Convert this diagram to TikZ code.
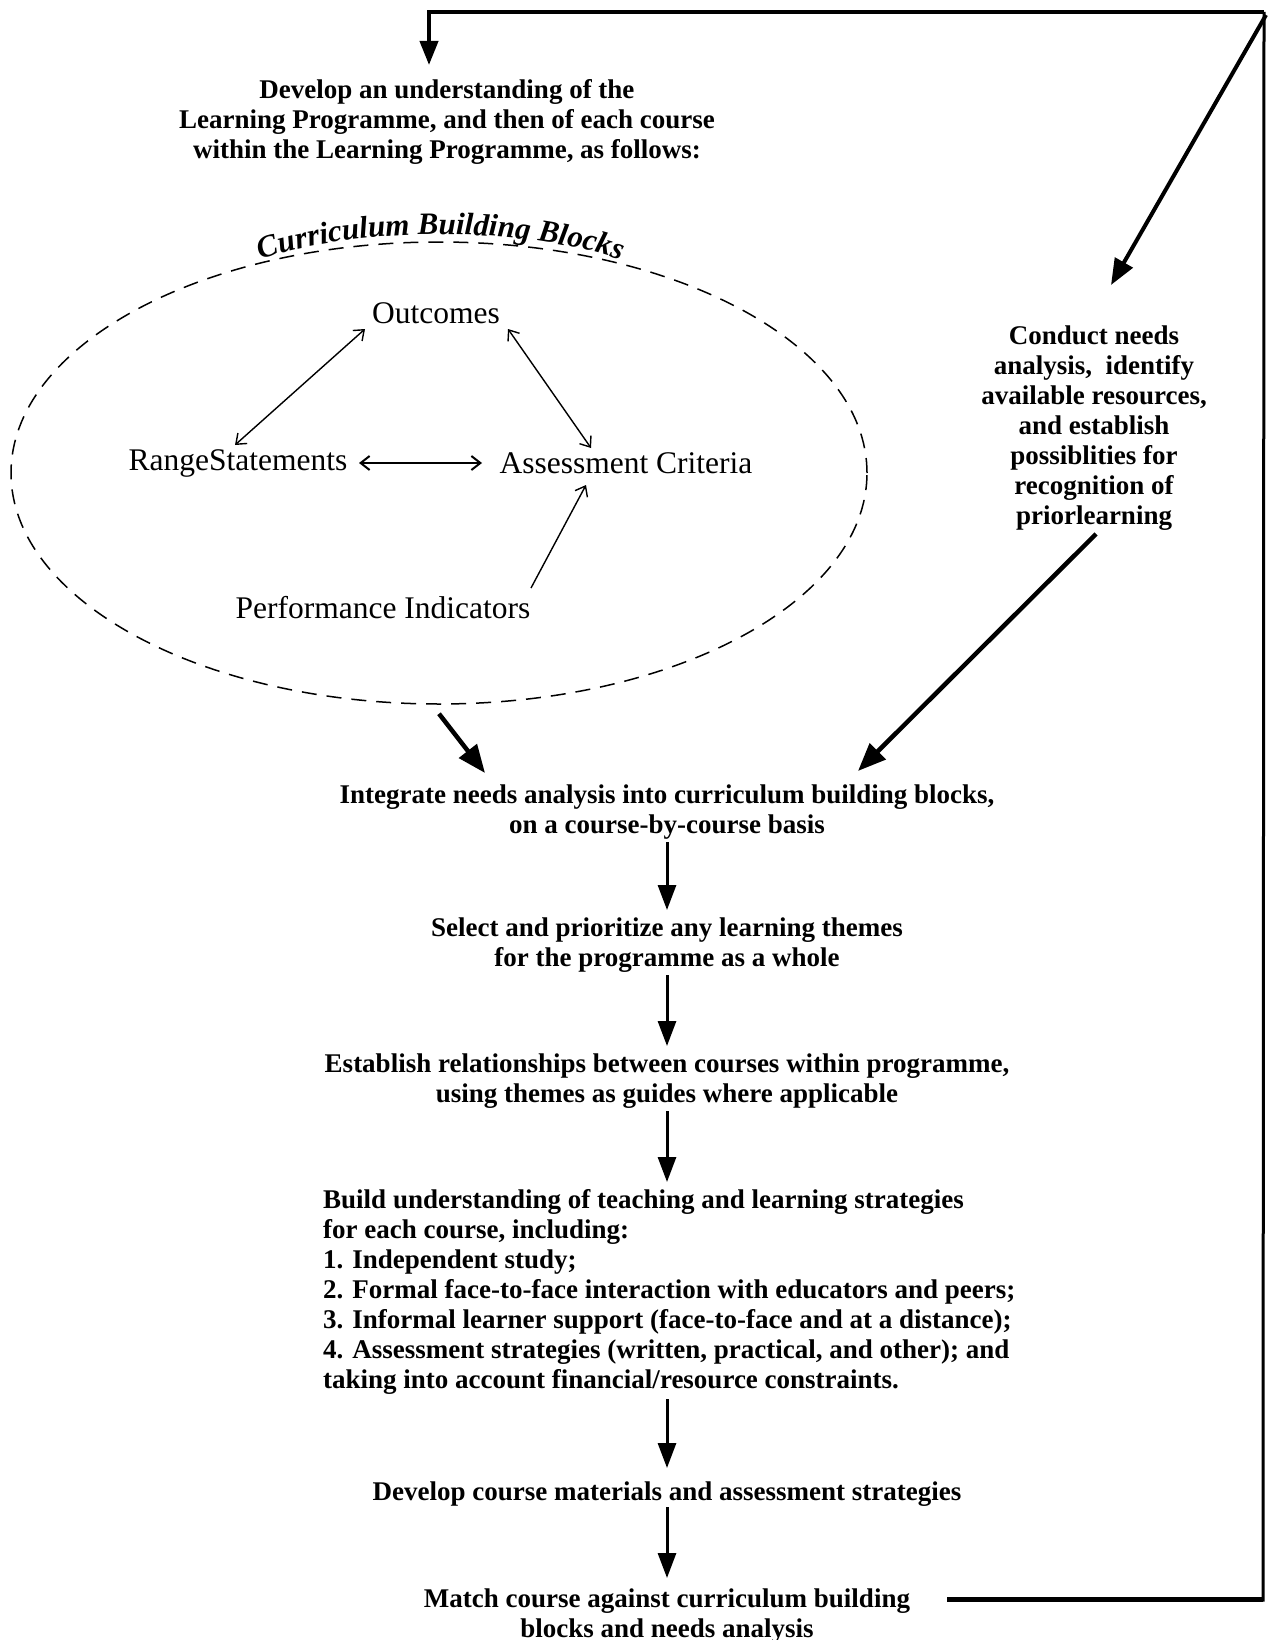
\documentclass[tikz,border=0pt]{standalone}
\usepackage{fontspec}
\setmainfont{Liberation Serif}
\usetikzlibrary{arrows.meta,decorations.text,shapes.geometric,calc}

\tikzset{
 flowtext/.style={font=\bfseries\fontsize{27}{30}\selectfont, align=center, inner sep=2pt},
 ovaltext/.style={font=\fontsize{31.5}{32}\selectfont, inner sep=2pt},
 thinarrow/.style={line width=1.4pt, <->, >={Straight Barb[length=9pt,width=14pt]}},
 thinone/.style={line width=1.4pt, ->, >={Straight Barb[length=9pt,width=14pt]}},
 flowarrow/.style={line width=3pt, -{Triangle[length=25pt,width=18pt]}},
 heavyarrow/.style={line width=4.5pt, -{Triangle[length=28pt,width=22pt]}},
 loopline/.style={line width=4pt},
 oval/.style={draw, ellipse, dash pattern=on 15pt off 10pt, line width=1.5pt, inner sep=0pt},
}

\begin{document}
\begin{tikzpicture}[x=1pt,y=-1pt]
\useasboundingbox[fill=white] (0,0) rectangle (1268,1640);

% texts
\node[flowtext] (understand) at (447,122) {Develop an understanding of the\\Learning Programme, and then of each course\\within the Learning Programme, as follows:};
\node[flowtext] (conduct) at (1094,428) {Conduct needs\\analysis,\ \ identify\\available resources,\\and establish\\possiblities for\\recognition of\\priorlearning};

% curriculum building blocks
\node[oval, minimum width=856pt, minimum height=462pt] (cbb) at (439,473) {};
\path[decorate, decoration={text along path, text align=center,
  text={|\bfseries\itshape\fontsize{31}{32}\selectfont|Curriculum Building Blocks}}]
  (246,266) .. controls (340,224) and (540,224) .. (636,266);

\node[ovaltext] (outcomes) at (436,313) {Outcomes};
\node[ovaltext] (range) at (238,463) {RangeStatements};
\node[ovaltext] (assess) at (626,463) {Assessment Criteria};
\node[ovaltext] (perf) at (383,608) {Performance Indicators};

\draw[thinarrow] ($(outcomes.center)+(-71,16)$) -- ($(range.center)+(-3,-18)$);
\draw[thinarrow] ($(outcomes.center)+(72,16)$) -- ($(assess.center)+(-35,-15)$);
\draw[thinarrow, line width=2pt] ($(range.center)+(121,0)$) -- ($(assess.center)+(-144,0)$);
\draw[thinone] ($(perf.center)+(148,-20)$) -- ($(assess.center)+(-40,22)$);

% flow
\node[flowtext] (integrate) at (667,812) {Integrate needs analysis into curriculum building blocks,\\on a course-by-course basis};
\node[flowtext] (select) at (667,945) {Select and prioritize any learning themes\\for the programme as a whole};
\node[flowtext] (establish) at (667,1081) {Establish relationships between courses within programme,\\using themes as guides where applicable};
\node[flowtext, align=left, anchor=west] (build) at (321,1292) {Build understanding of teaching and learning strategies\\for each course, including:\\1. Independent study;\\2. Formal face-to-face interaction with educators and peers;\\3. Informal learner support (face-to-face and at a distance);\\4. Assessment strategies (written, practical, and other); and\\taking into account financial/resource constraints.};
\node[flowtext] (devcourse) at (667,1494) {Develop course materials and assessment strategies};
\node[flowtext] (match) at (667,1616) {Match course against curriculum building\\blocks and needs analysis};

\draw[heavyarrow] ($(cbb.south)+(0,9)$) -- ($(integrate.center)+(-182,-39)$);
\draw[heavyarrow] ($(conduct.center)+(2,106)$) -- ($(integrate.center)+(191,-41)$);

\draw[flowarrow] ($(integrate.center)+(0,30)$) -- ($(select.center)+(0,-35)$);
\draw[flowarrow] ($(select.center)+(0,30)$) -- ($(establish.center)+(0,-35)$);
\draw[flowarrow] ($(establish.center)+(0,30)$) -- ($(establish.center |- build.center)+(0,-110)$);
\draw[flowarrow] ($(devcourse.center |- build.center)+(0,107)$) -- ($(devcourse.center)+(0,-26)$);
\draw[flowarrow] ($(devcourse.center)+(0,13)$) -- ($(match.center)+(0,-38)$);

% feedback loop
\coordinate (loopstart) at ($(match.center)+(280,-17)$);
\coordinate (loopBR) at (1263,1599);
\coordinate (loopTR) at (1264,12);
\coordinate (loopTL) at (429,12);
\draw[line width=5pt] (loopstart) -- (loopBR);
\draw[line width=3pt] ($(loopBR)+(0,2.5)$) -- (loopTR);
\draw[loopline, -{Triangle[length=24pt,width=18pt]}] (loopTR) -- (loopTL) -- ($(understand.center)+(-18,-57)$);
\draw[loopline, -{Triangle[length=26pt,width=20pt]}] ($(loopTR)+(2,3)$) -- ($(conduct.center)+(17,-143)$);
\end{tikzpicture}
\end{document}
